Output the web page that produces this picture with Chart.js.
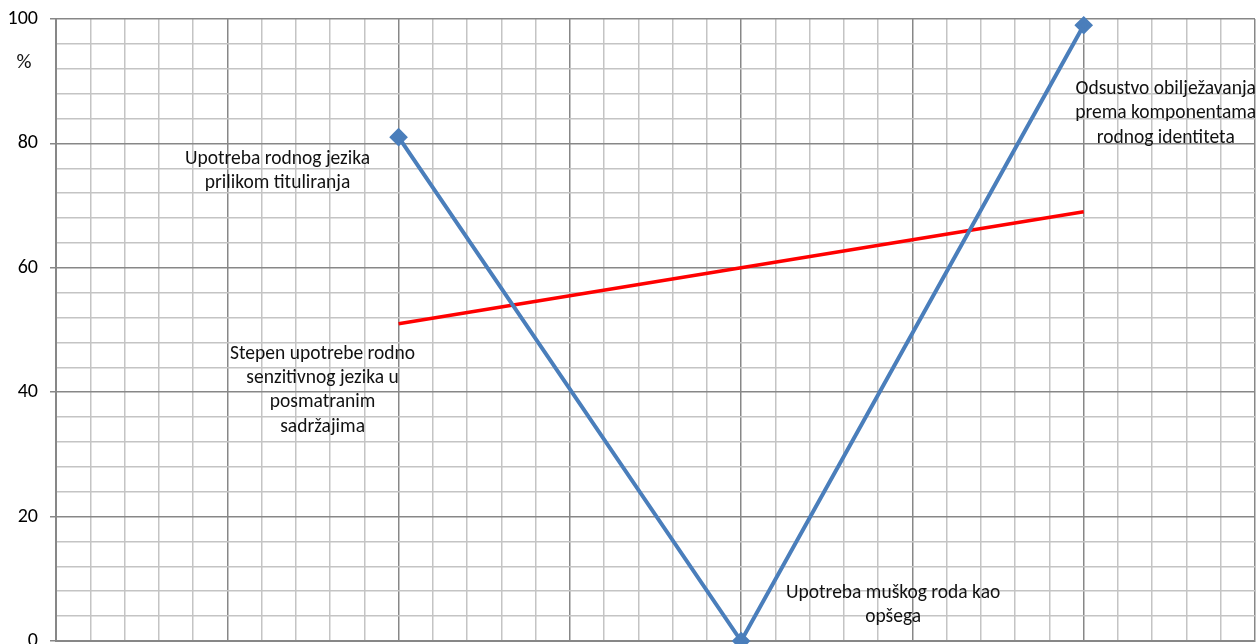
<!DOCTYPE html>
<html>
<head>
<meta charset="utf-8">
<script src="https://cdn.jsdelivr.net/npm/chart.js@4.4.0/dist/chart.umd.min.js"></script>
<style>
  html, body { margin: 0; padding: 0; background: #fff; overflow: hidden; }
  #wrap { width: 1258px; height: 670px; position: relative; top: -5px; }
</style>
</head>
<body>
<div id="wrap"><canvas id="chart"></canvas></div>
<script>
// categories and their slot on the x axis (35 grid columns, major line every 5)
const categories = [
    ["Upotreba rodnog jezika", "prilikom tituliranja"],
    ["Upotreba muškog roda kao", "opšega"],
    ["Odsustvo obilježavanja", "prema komponentama", "rodnog identiteta"]
];
const slots = [10, 20, 30];
const usageValues = [81, 0, 99];
const trendValues = [51, 60, 69];
const trendLabel = ["Stepen upotrebe rodno", "senzitivnog jezika u", "posmatranim", "sadržajima"];
const yTickLabels = [0, 20, 40, 60, 80, 100];

const FONT = "Carlito, Lato, 'Open Sans', sans-serif";
const MAJOR = "#878787";
const MINOR = "#c4c4c4";

// text boxes next to the points, offsets in pixels from the point
const notes = [
    { ds: 0, i: 0, lines: categories[0], dx: -121, dy: 22 },
    { ds: 0, i: 1, lines: categories[1], dx: 152, dy: -48 },
    { ds: 0, i: 2, lines: categories[2], dx: 82, dy: 64 },
    { ds: 1, i: 0, lines: trendLabel, dx: -76, dy: 30 }
];

const notesPlugin = {
    id: "notes",
    afterDatasetsDraw(chart) {
        const ctx = chart.ctx;
        ctx.save();
        ctx.fillStyle = "#111";
        ctx.font = "19.5px " + FONT;
        ctx.textAlign = "center";
        ctx.textBaseline = "middle";
        notes.forEach(n => {
            const pt = chart.getDatasetMeta(n.ds).data[n.i];
            n.lines.forEach((line, k) => {
                ctx.fillText(line, pt.x + n.dx, pt.y + n.dy + k * 24.3);
            });
        });
        // "%" unit label under the top tick
        const y = chart.scales.y;
        ctx.font = "21px " + FONT;
        ctx.fillText("%", 24, y.getPixelForValue(93));
        ctx.restore();
    }
};

new Chart(document.getElementById("chart"), {
    type: "line",
    data: {
        datasets: [{
            label: "Upotreba",
            data: slots.map((s, i) => ({ x: s, y: usageValues[i] })),
            borderColor: "#4a7ebb",
            backgroundColor: "#4a7ebb",
            borderWidth: 4,
            pointStyle: "rectRot",
            pointRadius: 6.5,
            pointHoverRadius: 6.5,
            tension: 0,
            clip: false
        }, {
            label: "Trend",
            data: slots.map((s, i) => ({ x: s, y: trendValues[i] })),
            borderColor: "#ff0000",
            borderWidth: 3.5,
            pointRadius: 0,
            tension: 0,
            clip: false
        }]
    },
    options: {
        responsive: true,
        maintainAspectRatio: false,
        animation: false,
        events: [],
        layout: {
            autoPadding: false,
            padding: { top: 14, right: 3, bottom: 14, left: 0 }
        },
        scales: {
            x: {
                type: "linear",
                min: 0,
                max: 35,
                ticks: { display: false, stepSize: 1, autoSkip: false },
                grid: {
                    drawTicks: false,
                    lineWidth: 1.5,
                    color: c => c.tick.value % 5 === 0 ? MAJOR : MINOR
                },
                border: { display: true, color: MAJOR, width: 2 },
                afterFit: s => { s.height = 0; }
            },
            y: {
                min: 0,
                max: 100,
                ticks: {
                    stepSize: 4,
                    autoSkip: false,
                    padding: 12,
                    color: "#000",
                    font: { family: FONT, size: 20 },
                    callback: v => yTickLabels.includes(v) ? v : ""
                },
                grid: {
                    tickLength: 6,
                    lineWidth: 1.5,
                    color: c => c.tick.value % 20 === 0 ? MAJOR : MINOR,
                    tickColor: c => c.tick.value % 20 === 0 ? MAJOR : "rgba(0,0,0,0)"
                },
                border: { display: true, color: MAJOR, width: 2 },
                afterFit: s => { s.width = 56; }
            }
        },
        plugins: {
            legend: { display: false },
            tooltip: { enabled: false }
        }
    },
    plugins: [notesPlugin]
});
</script>
</body>
</html>
